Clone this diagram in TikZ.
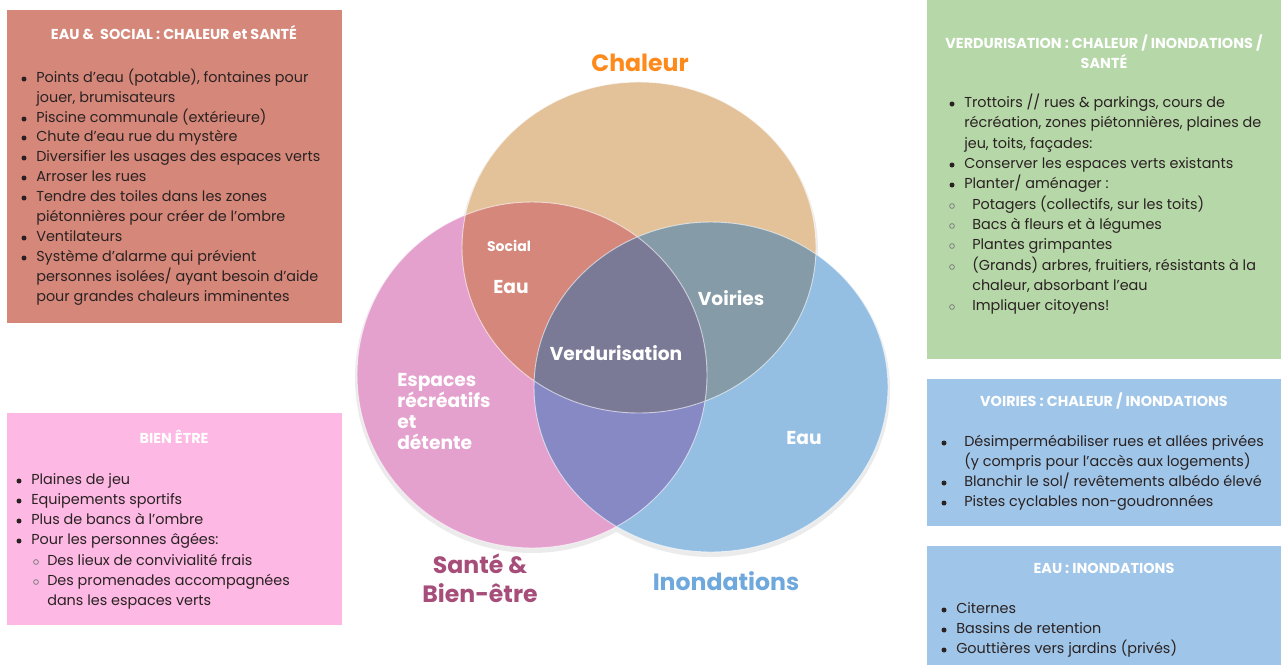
\documentclass[tikz,border=0pt]{standalone}
\usepackage{fontspec}
\setmainfont{Poppins}

\definecolor{chaleurfill}{HTML}{E3C199}
\definecolor{santefill}{HTML}{E4A1CE}
\definecolor{eaufill}{HTML}{94BEE2}
\definecolor{chsafill}{HTML}{D4877A}
\definecolor{cheafill}{HTML}{859BA7}
\definecolor{saeafill}{HTML}{8689C4}
\definecolor{centrefill}{HTML}{7B7A96}
\definecolor{redbox}{HTML}{D5877A}
\definecolor{pinkbox}{HTML}{FDB8E4}
\definecolor{greenbox}{HTML}{B6D7A8}
\definecolor{bluebox}{HTML}{9FC5E8}
\definecolor{chaleurtxt}{HTML}{FF8A1C}
\definecolor{santetxt}{HTML}{A64D79}
\definecolor{inondtxt}{HTML}{6FA8DC}
\definecolor{bodytxt}{HTML}{2A2222}

% bullet: #1 type (1 dot, 2 ring), #2 x, #3 y
\newcommand{\puce}[3]{%
  \ifnum#1=1 \fill[bodytxt] (#2,#3) circle (2.5);\fi
  \ifnum#1=2 \draw[gray,line width=0.6pt] (#2,#3) circle (2.4);\fi}

\begin{document}
\begin{tikzpicture}[x=0.75pt,y=-0.75pt,
    venntitle/.style={font=\bfseries\fontsize{17.7}{22}\selectfont},
    vennlabel/.style={text=white,font=\bfseries\fontsize{14}{15.8}\selectfont},
    boxtitle/.style={text=white,font=\bfseries\fontsize{10.8}{15}\selectfont},
    item/.style={anchor=mid west,inner sep=0pt,text=bodytxt,font=\fontsize{10.8}{15}\selectfont}]
	\useasboundingbox (0,0) rectangle (1281,665);
	\fill[white] (0,0) rectangle (1281,665);

	\def\chaleur{(639,247.5) ellipse [x radius=177, y radius=165.5]}
	\def\sante{(532,375) ellipse [x radius=175, y radius=173]}
	\def\inond{(711,387) ellipse [x radius=177, y radius=165]}

	% soft shadow
	\begin{scope}[shift={(0,3)}]
		\fill[black,opacity=0.08] (639,247.5) ellipse [x radius=179, y radius=167.5]
			  (532,375) ellipse [x radius=177, y radius=175]
			  (711,387) ellipse [x radius=179, y radius=167];
	\end{scope}

	% venn
	\fill[chaleurfill] \chaleur;
	\fill[santefill] \sante;
	\fill[eaufill] \inond;
	\begin{scope}
		\clip \chaleur;
		\fill[chsafill] \sante;
		\fill[cheafill] \inond;
	\end{scope}
	\begin{scope}
		\clip \sante;
		\fill[saeafill] \inond;
	\end{scope}
	\begin{scope}
		\clip \chaleur;
		\clip \sante;
		\fill[centrefill] \inond;
	\end{scope}
	\draw[white,opacity=0.6,line width=0.7pt] \chaleur \sante \inond;

	\node[venntitle,text=chaleurtxt] (chaleur) at (640,63) {Chaleur};
	\node[venntitle,text=santetxt,align=center] (sante) at (480,578) {Santé \&\\Bien-être};
	\node[venntitle,text=inondtxt] (inond) at (726,581) {Inondations};
	\node[vennlabel,font=\bfseries\fontsize{10.5}{12}\selectfont] (social) at (509,246) {Social};
	\node[vennlabel] (eauA) at (511,287) {Eau};
	\node[vennlabel] (voiries) at (731,298) {Voiries};
	\node[vennlabel] (verdur) at (616,353) {Verdurisation};
	\node[vennlabel,align=left,anchor=north west,inner sep=0pt] (espaces) at (397,373) {Espaces\\récréatifs\\et\\détente};
	\node[vennlabel] (eauB) at (804,438) {Eau};

	% eau & social
	\fill[redbox] (7,10) rectangle (342,323);
	\node[boxtitle] (t-social) at (174,33) {EAU \&\ \ SOCIAL : CHALEUR et SANTÉ};
	\foreach \y/\b/\t in {
		79/1/{Points d’eau (potable), fontaines pour},
		99/0/{jouer, brumisateurs},
		119/1/{Piscine communale (extérieure)},
		138/1/{Chute d’eau rue du mystère},
		158/1/{Diversifier les usages des espaces verts},
		178/1/{Arroser les rues},
		198/1/{Tendre des toiles dans les zones},
		218/0/{piétonnières pour créer de l’ombre},
		238/1/{Ventilateurs},
		258/1/{Système d’alarme qui prévient},
		278/0/{personnes isolées/ ayant besoin d’aide},
		298/0/{pour grandes chaleurs imminentes}}
	{\puce{\b}{24}{\y} \node[item] (social-\y) at (36,\y) {\t};}

	% bien etre
	\fill[pinkbox] (7,413) rectangle (342,625);
	\node[boxtitle] (t-bien) at (174,437) {BIEN ÊTRE};
	\foreach \y/\b/\bx/\tx/\t in {
		481/1/19/31/{Plaines de jeu},
		501/1/19/31/{Equipements sportifs},
		521/1/19/31/{Plus de bancs à l’ombre},
		541/1/19/31/{Pour les personnes âgées:},
		562/2/36/47/{Des lieux de convivialité frais},
		582/2/36/47/{Des promenades accompagnées},
		602/0/36/47/{dans les espaces verts}}
	{\puce{\b}{\bx}{\y} \node[item] (bien-\y) at (\tx,\y) {\t};}

	% verdurisation
	\fill[greenbox] (927,0) rectangle (1281,359);
	\node[boxtitle,align=center] (t-verdur) at (1104,52) {VERDURISATION : CHALEUR / INONDATIONS /\\SANTÉ};
	\foreach \y/\b/\tx/\t in {
		104/1/964/{Trottoirs // rues \& parkings, cours de},
		124/0/964/{récréation, zones piétonnières, plaines de},
		145/0/964/{jeu, toits, façades:},
		165/1/964/{Conserver les espaces verts existants},
		185/1/964/{Planter/ aménager :},
		206/2/972/{Potagers (collectifs, sur les toits)},
		226/2/972/{Bacs à fleurs et à légumes},
		246/2/972/{Plantes grimpantes},
		267/2/972/{(Grands) arbres, fruitiers, résistants à la},
		287/0/972/{chaleur, absorbant l’eau},
		307/2/972/{Impliquer citoyens!}}
	{\puce{\b}{952}{\y} \node[item] (verdur-\y) at (\tx,\y) {\t};}

	% voiries
	\fill[bluebox] (927,379) rectangle (1281,526);
	\node[boxtitle] (t-voiries) at (1104,401) {VOIRIES : CHALEUR / INONDATIONS};
	\foreach \y/\b/\t in {
		443/1/{Désimperméabiliser rues et allées privées},
		463/0/{(y compris pour l’accès aux logements)},
		483/1/{Blanchir le sol/ revêtements albédo élevé},
		503/1/{Pistes cyclables non-goudronnées}}
	{\puce{\b}{944}{\y} \node[item] (voiries-\y) at (964,\y) {\t};}

	% eau : inondations
	\fill[bluebox] (927,546) rectangle (1281,665);
	\node[boxtitle] (t-eau) at (1104,568) {EAU : INONDATIONS};
	\foreach \y/\t in {610/{Citernes}, 630/{Bassins de retention}, 650/{Gouttières vers jardins (privés)}}
	{\puce{1}{944}{\y} \node[item] (eau-\y) at (956,\y) {\t};}
\end{tikzpicture}
\end{document}
